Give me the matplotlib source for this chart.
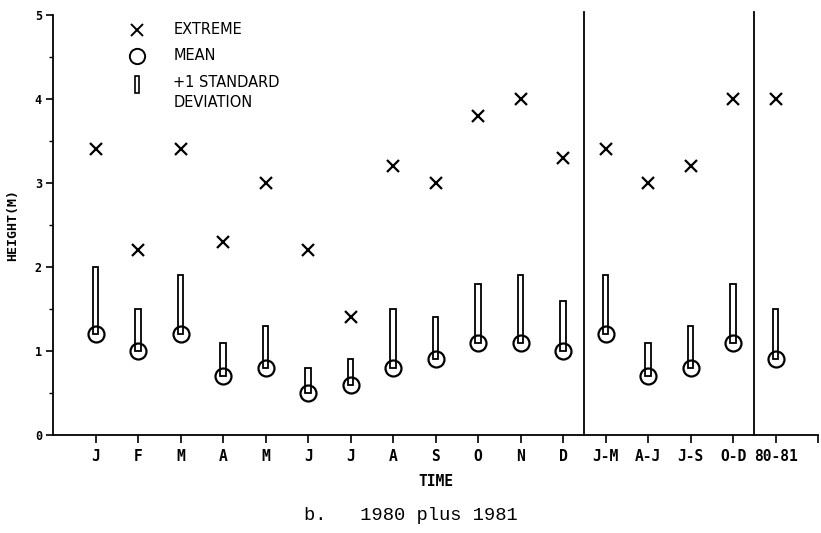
import matplotlib.pyplot as plt

months = ['J', 'F', 'M', 'A', 'M', 'J', 'J', 'A', 'S', 'O', 'N', 'D',
          'J-M', 'A-J', 'J-S', 'O-D', '80-81']
extreme = [3.4, 2.2, 3.4, 2.3, 3.0, 2.2, 1.4, 3.2, 3.0, 3.8, 4.0, 3.3,
           3.4, 3.0, 3.2, 4.0, 4.0]
mean = [1.2, 1.0, 1.2, 0.7, 0.8, 0.5, 0.6, 0.8, 0.9, 1.1, 1.1, 1.0,
        1.2, 0.7, 0.8, 1.1, 0.9]
mean_plus_sd = [2.0, 1.5, 1.9, 1.1, 1.3, 0.8, 0.9, 1.5, 1.4, 1.8, 1.9, 1.6,
                1.9, 1.1, 1.3, 1.8, 1.5]
dividers = [12.5, 16.5]

x = list(range(1, len(months) + 1))
sd = [t - m for t, m in zip(mean_plus_sd, mean)]

mono = 'DejaVu Sans Mono'

fig = plt.figure(figsize=(8.21, 5.33), dpi=100)
ax = fig.add_axes([0.0646, 0.184, 0.932, 0.788])

ax.bar(x, sd, bottom=mean, width=0.13, facecolor='white', edgecolor='black',
       linewidth=1.3, zorder=2)
ax.plot(x, mean, linestyle='none', marker='o', markersize=11.5,
        markerfacecolor='none', markeredgecolor='black', markeredgewidth=1.6, zorder=3)
ax.plot(x, extreme, linestyle='none', marker='x', markersize=9,
        color='black', markeredgewidth=1.6, zorder=3)

for d in dividers:
    ax.axvline(d, ymax=1.008, color='black', linewidth=1.3, clip_on=False)

ax.set_xlim(0, 18)
ax.set_ylim(0, 5)
ax.spines['top'].set_visible(False)
ax.spines['right'].set_visible(False)
ax.spines['left'].set_linewidth(1.3)
ax.spines['bottom'].set_linewidth(1.3)

ax.set_xticks(x)
ax.set_xticklabels(months, fontfamily=mono, fontweight='bold', fontsize=10.5)
ax.set_xticks([18], minor=True)
ax.set_yticks([0, 1, 2, 3, 4, 5])
ax.set_yticklabels(['0', '1', '2', '3', '4', '5'], fontfamily=mono,
                   fontweight='bold', fontsize=8.5)
ax.set_yticks([0.5, 1.5, 2.5, 3.5, 4.5], minor=True)
ax.tick_params(axis='x', which='both', direction='out', length=6, width=1.2, pad=4)
ax.tick_params(axis='y', which='major', direction='out', length=5, width=1.2, pad=3)
ax.tick_params(axis='y', which='minor', direction='out', length=3, width=1.0)

ax.set_xlabel('TIME', fontfamily=mono, fontweight='bold', fontsize=10.5, labelpad=7)
ax.set_ylabel('HEIGHT(M)', fontfamily=mono, fontweight='bold', fontsize=9.5, labelpad=11)

# legend drawn by hand
ax.plot([0.11], [0.964], transform=ax.transAxes, marker='x', markersize=9,
        color='black', markeredgewidth=1.4, clip_on=False)
ax.plot([0.11], [0.902], transform=ax.transAxes, marker='o', markersize=11,
        markerfacecolor='none', markeredgecolor='black', markeredgewidth=1.4, clip_on=False)
ax.add_patch(plt.Rectangle((0.1075, 0.815), 0.005, 0.04, transform=ax.transAxes,
                           facecolor='white', edgecolor='black', linewidth=1.2, clip_on=False))
ax.text(0.157, 0.966, 'EXTREME', transform=ax.transAxes, fontsize=10.5, va='center')
ax.text(0.157, 0.904, 'MEAN', transform=ax.transAxes, fontsize=10.5, va='center')
ax.text(0.157, 0.857, '+1 STANDARD\nDEVIATION', transform=ax.transAxes, fontsize=10.5,
        va='top', linespacing=1.4)

fig.text(0.5, 0.025, 'b.   1980 plus 1981', fontfamily='Liberation Mono',
         fontsize=13.5, ha='center')

fig.savefig('out.png', dpi=100)
